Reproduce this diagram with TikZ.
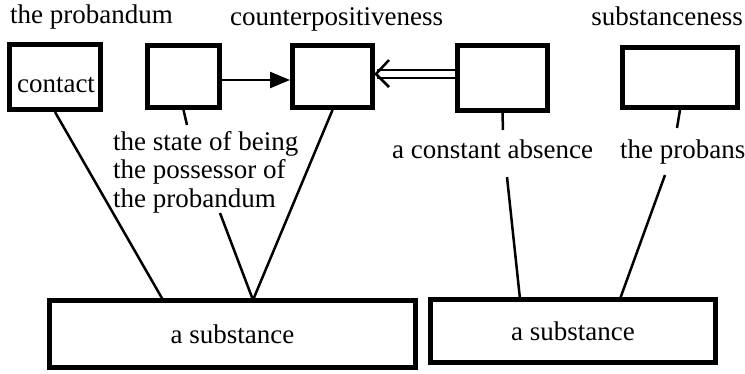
\documentclass[tikz,border=0pt]{standalone}
\usepackage{fontspec}
\setmainfont{Liberation Serif}
\newfontfamily\tnr{Liberation Serif}
\usetikzlibrary{arrows.meta,calc}
\begin{document}
\begin{tikzpicture}[x=1pt,y=-1pt,
  box/.style={draw, line width=5pt, inner sep=0pt, font=\tnr\fontsize{27}{29}\selectfont},
  lbl/.style={inner sep=0pt, font=\tnr\fontsize{27}{28.5}\selectfont},
  conn/.style={line width=2.5pt},
  dbl/.style={line width=2.5pt, double, double distance=5.5pt}]
\useasboundingbox (0,0) rectangle (745,373);
% upper boxes
\node[box, minimum width=91, minimum height=65] (b1) at (55,77) {};
\node[box, minimum width=72, minimum height=62] (b2) at (183.5,76.5) {};
\node[box, minimum width=80, minimum height=62] (b3) at (332.5,76.5) {};
\node[box, minimum width=90, minimum height=65] (b4) at (502.5,78) {};
\node[box, minimum width=115, minimum height=60] (b5) at (680,77.5) {};
% lower boxes
\node[box, minimum width=366, minimum height=67] (B1) at (232.5,334) {a substance};
\node[box, minimum width=285, minimum height=63] (B2) at (573,331) {a substance};
% labels
\node[lbl, anchor=base] (tcontact) at (56,92) {contact};
\node[lbl, anchor=base west] (tprob) at (10,23) {the probandum};
\node[lbl, anchor=base west] (tcounter) at (230,25) {counterpositiveness};
\node[lbl, anchor=base east] (tsubst) at (743,25) {substanceness};
\node[lbl, anchor=north west, align=left] (L1) at (113,131) {the state of being\\the possessor of\\the probandum};
\node[lbl, anchor=base west] (L2) at (392,158) {a constant absence};
\node[lbl, anchor=base west] (L3) at (620,158) {the probans};
% connector end points
\coordinate (p1) at (163,300);
\coordinate (p2) at (253,300);
\coordinate (q1) at (187,125);
\coordinate (q2) at (220,213);
\coordinate (r1) at (503,130);
\coordinate (r2) at (507,177);
\coordinate (r3) at (520,299);
\coordinate (s1) at (677,128);
\coordinate (s2) at (665,175);
\coordinate (s3) at (620,299);
% connectors
\draw[conn] (b1.south) -- (p1);
\draw[conn] (b2.south) -- (q1);
\draw[conn] (q2) -- (p2);
\draw[conn] (b3.south) -- (p2);
\draw[conn] (b4.south) -- (r1);
\draw[conn] (r2) -- (r3);
\draw[conn] (b5.south) -- (s1);
\draw[conn] (s2) -- (s3);
% arrows
\draw[conn, -{Triangle[length=20pt,width=16pt]}] (b2.east |- 0,80) -- (b3.west |- 0,80);
\draw[dbl] (b4.west |- 0,74) -- ($(b3.east |- 0,74)+(2,0)$);
\draw[conn] ($(b3.east |- 0,74)+(14,-14)$) -- ($(b3.east |- 0,74)+(1,0)$) -- ($(b3.east |- 0,74)+(14,13)$);
\end{tikzpicture}
\end{document}
